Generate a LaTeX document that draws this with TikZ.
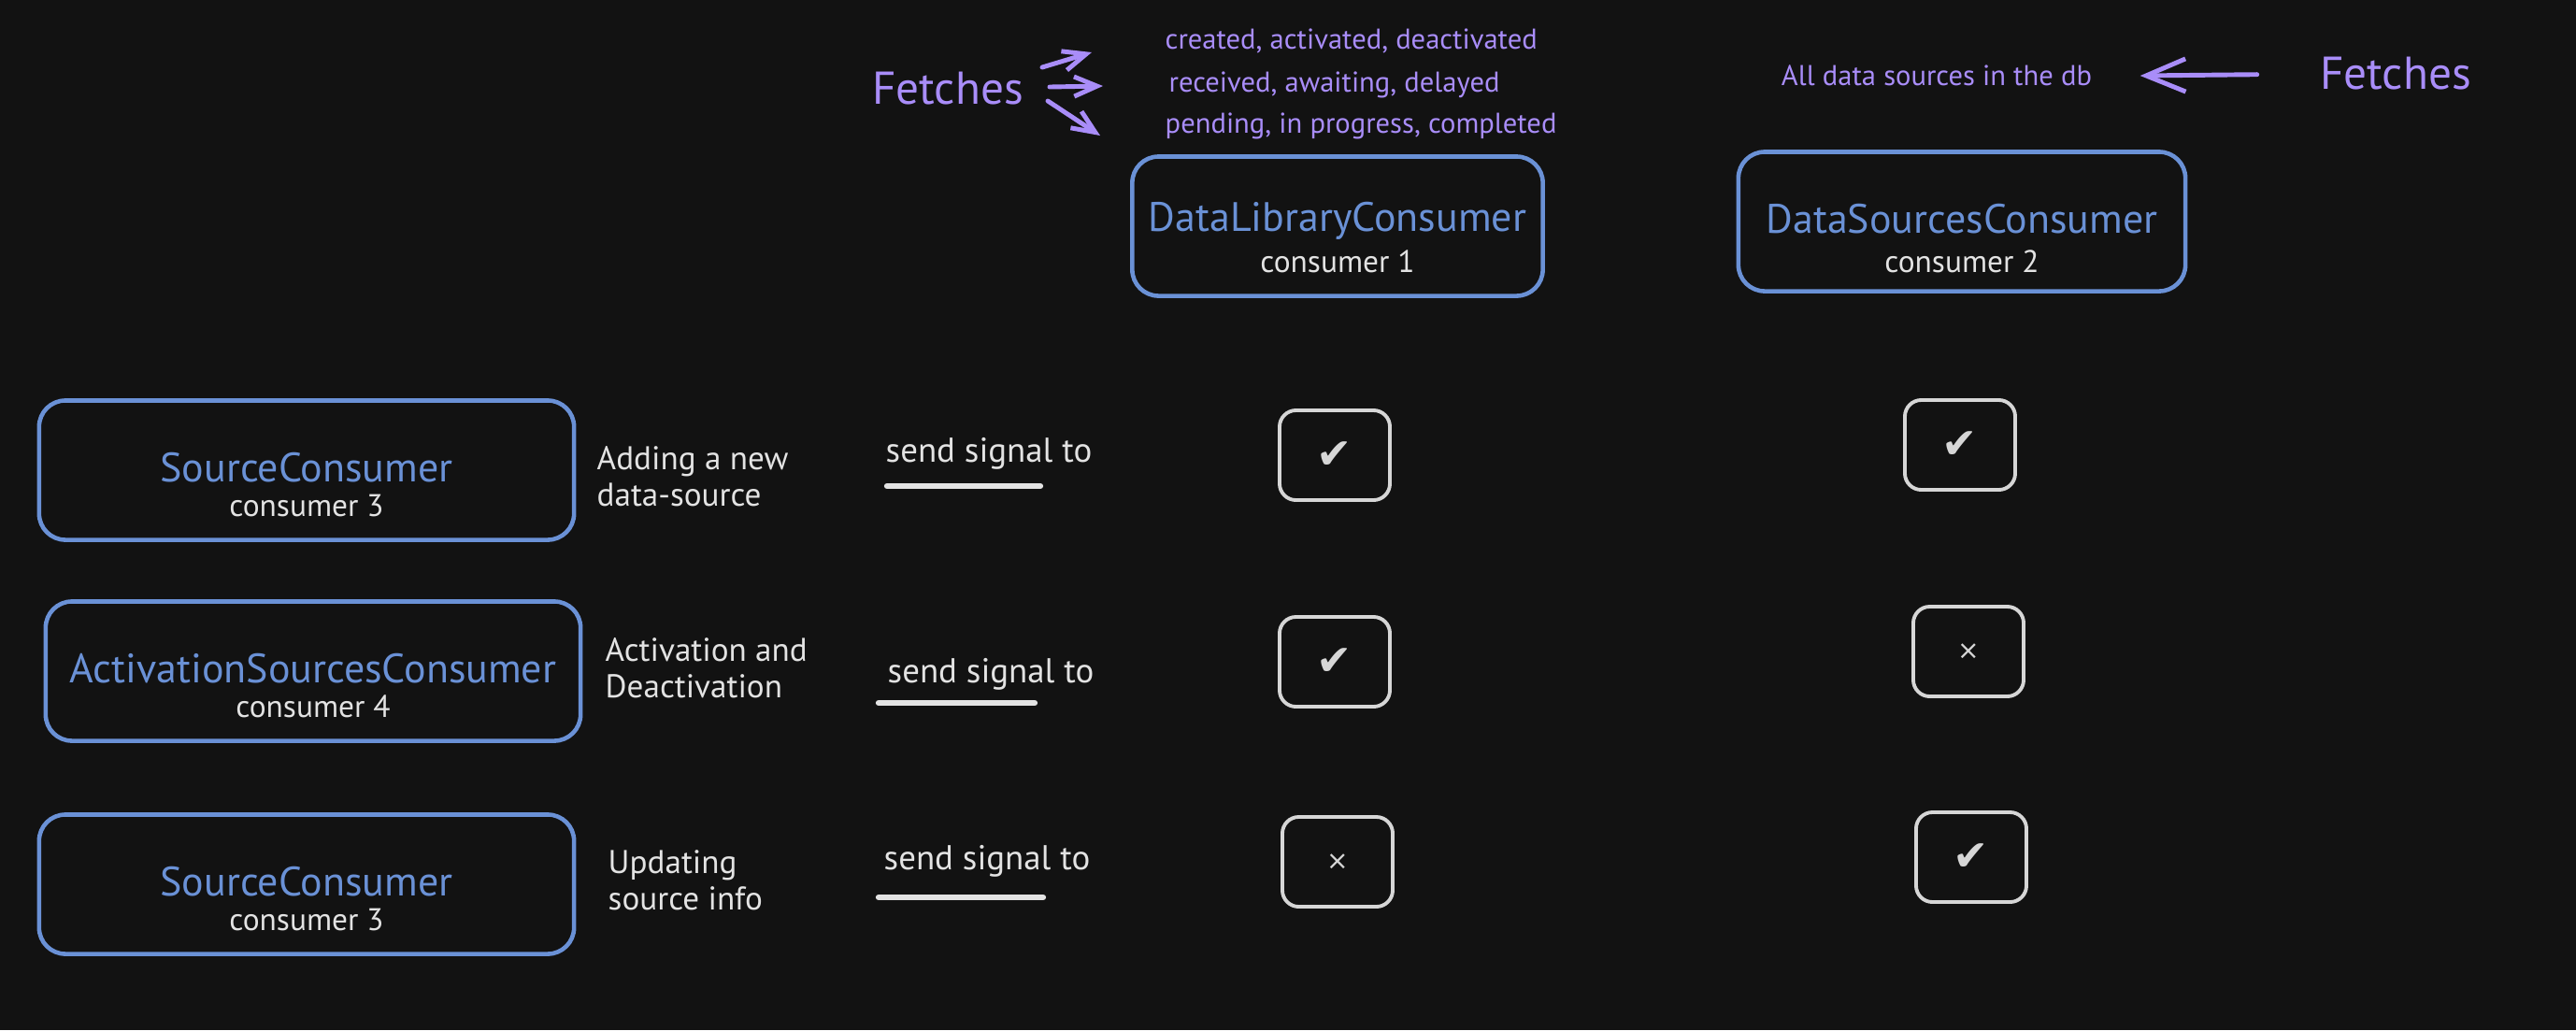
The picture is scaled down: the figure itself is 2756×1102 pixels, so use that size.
\documentclass[tikz,border=0pt]{standalone}
\usepackage{fontspec}
\setmainfont{PT Sans}
\newfontfamily\simbolos{DejaVu Sans}
\usetikzlibrary{arrows.meta}
\definecolor{fondo}{HTML}{121212}
\definecolor{azul}{HTML}{6A91D6}
\definecolor{lila}{HTML}{A98DF9}
\definecolor{blanco}{HTML}{E3E3E3}
\definecolor{gris}{HTML}{D6D6D6}
\tikzset{
  caja/.style={draw=azul, line width=1.3pt, rounded corners=8pt, minimum height=1.49cm},
  nombre/.style={text=azul, inner sep=0pt, font=\fontsize{12.5}{14}\selectfont},
  sub/.style={text=blanco, inner sep=0pt, font=\fontsize{9.5}{11}\selectfont},
  texto/.style={text=blanco, inner sep=0pt, align=left, font=\fontsize{10}{11}\selectfont},
  senal/.style={text=blanco, inner sep=0pt, font=\fontsize{10.5}{12}\selectfont},
  estado/.style={text=lila, inner sep=0pt, font=\fontsize{8.7}{10}\selectfont},
  busca/.style={text=lila, inner sep=0pt, font=\fontsize{14}{16}\selectfont},
  flecha/.style={draw=lila, line width=1.4pt, line cap=round, -{Straight Barb[length=7pt,width=6pt]}},
  flechagrande/.style={flecha, -{Straight Barb[length=12pt,width=10pt]}},
  marca/.style={draw=gris, line width=1.1pt, rounded corners=5pt, minimum width=1.18cm,
    minimum height=0.96cm, text=gris, font=\simbolos\fontsize{13}{13}\selectfont},
  cruz/.style={marca, font=\simbolos\fontsize{8}{8}\selectfont},
  raya/.style={draw=blanco, line width=1.8pt, line cap=round}
}
\begin{document}
\begin{tikzpicture}[x=0.01cm, y=-0.01cm]
    \fill[fondo] (0,0) rectangle (2756,1102);

    % Consumidores de arriba
    \node[caja, minimum width=4.39cm] (lib) at (1431,242) {};
    \node[nombre] (libN) at (1431,236) {DataLibraryConsumer};
    \node[sub] (libS) at (1431,280) {consumer 1};

    \node[caja, minimum width=4.78cm] (dss) at (2099,237) {};
    \node[nombre] (dssN) at (2099,234) {DataSourcesConsumer};
    \node[sub] (dssS) at (2099,280) {consumer 2};

    % Lo que traen
    \node[busca] (fetchL) at (1014,95) {Fetches};
    \node[estado, anchor=west] (st1) at (1246,44) {created, activated, deactivated};
    \node[estado, anchor=west] (st2) at (1250,91) {received, awaiting, delayed};
    \node[estado, anchor=west] (st3) at (1246,135) {pending, in progress, completed};
    \coordinate (a1) at (1115,72);  \coordinate (b1) at (1168,56);
    \coordinate (a2) at (1123,93);  \coordinate (b2) at (1180,92);
    \coordinate (a3) at (1121,108); \coordinate (b3) at (1177,145);
    \foreach \i in {1,2,3} {
        \draw[flecha] (a\i) -- (b\i);
    }

    \node[busca] (fetchR) at (2563,79) {Fetches};
    \node[estado] (dbAll) at (2072,81) {All data sources in the db};
    \draw[flechagrande, shorten <=19pt] (fetchR.west) -- ([xshift=14.5pt]dbAll.east);

    % Consumidores de la izquierda
    \foreach \i/\cx/\cy/\nom/\num in {
        1/328/503/SourceConsumer/3,
        2/335/718/ActivationSourcesConsumer/4,
        3/328/946/SourceConsumer/3
        } {
        \node[caja, minimum width=5.72cm] (src\i) at (\cx,\cy) {};
        \node[nombre] (srcN\i) at (\cx,\cy-3) {\nom};
        \node[sub] (srcS\i) at (\cx,\cy+38) {consumer \num};
    }
    \node[texto, anchor=west] (desc1) at (638,510) {Adding a new\\data-source};
    \node[texto, anchor=west] (desc2) at (647,715) {Activation and\\Deactivation};
    \node[texto, anchor=west] (desc3) at (650,942) {Updating\\source info};

    % Send signal to
    \foreach \i/\cx/\cy/\ua/\ub/\uy in {
        1/1058/485/949/1113/520,
        2/1060/721/940/1107/752,
        3/1056/921/940/1116/960
        } {
        \node[senal] (sig\i) at (\cx,\cy) {send signal to};
        \draw[raya] (\ua,\uy) -- (\ub,\uy);
    }

    % Marcas
    \foreach \n/\cx/\cy in {m11/1428/487, m21/1428/708, m12/2097/476, m32/2109/917} {
        \node[marca] (\n) at (\cx,\cy) {✔};
    }
    \foreach \n/\cx/\cy in {m31/1431/922, m22/2106/697} {
        \node[cruz] (\n) at (\cx,\cy) {×};
    }
\end{tikzpicture}
\end{document}
